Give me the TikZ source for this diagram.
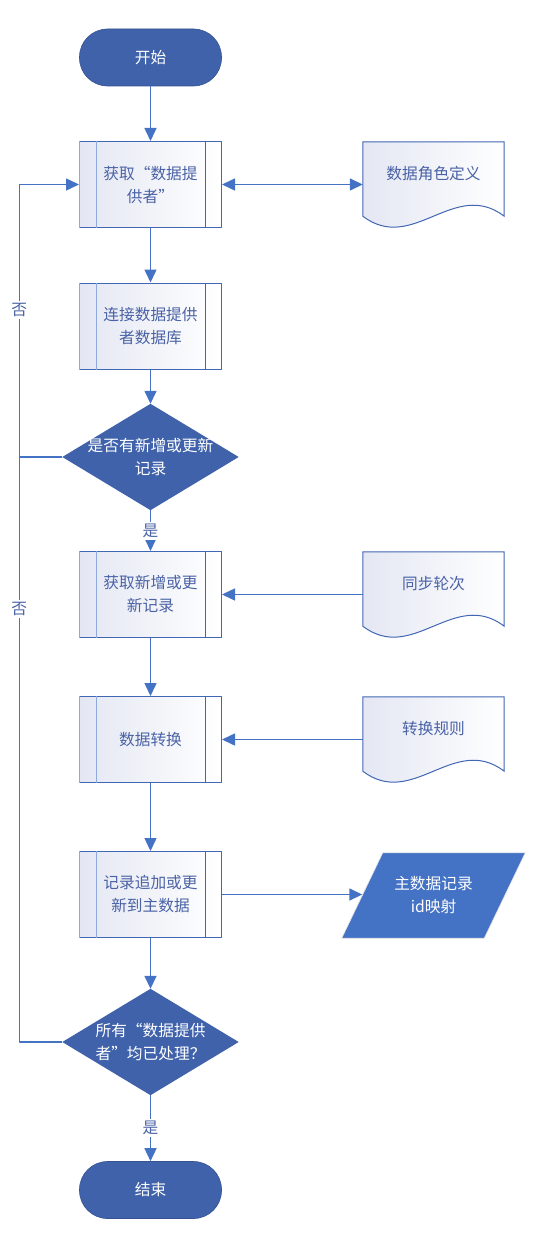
\documentclass[tikz,border=0pt]{standalone}
\usepackage{fontspec}
\setmainfont{Noto Sans CJK SC}
\usetikzlibrary{arrows.meta,backgrounds}
\definecolor{flowblue}{HTML}{4472C4}
\definecolor{termblue}{HTML}{3F62AB}
\definecolor{procedge}{HTML}{4166B4}
\definecolor{procpale}{HTML}{8EA9DB}
\definecolor{proctext}{HTML}{4A62A6}
\definecolor{procshade}{HTML}{E4E7F3}

\begin{document}
\begin{tikzpicture}[
  x=1pt,
  y=-1pt,
  line join=round,
  every node/.style={font=\fontsize{15.7}{23}\selectfont,align=center},
  terminal/.style={rectangle,rounded corners=28pt,fill=termblue,draw=termblue!85!black,line width=0.6pt,text=white,minimum width=142pt,minimum height=57pt},
  process/.style={rectangle,draw=procedge,line width=1pt,left color=procshade,right color=white,text=proctext,minimum width=142pt,minimum height=86pt,inner sep=0pt},
  decision/.style={rectangle,text=white,minimum width=176pt,minimum height=106pt,inner sep=0pt},
  docbox/.style={rectangle,text=proctext,minimum width=141pt,minimum height=63pt,inner sep=0pt},
  docline/.style={draw=procedge,line width=1pt,left color=procshade,right color=white},
  ioshape/.style={rectangle,text=white,minimum width=142pt,minimum height=85pt,inner sep=0pt},
  flow/.style={draw=flowblue,line width=1.5pt,-{Triangle[length=13pt,width=12pt]}},
  link/.style={draw=flowblue,line width=1.5pt},
  answer/.style={fill=white,text=proctext,inner sep=2pt}
]
  % Keep the original canvas with its margins.
  \useasboundingbox (0,0) rectangle (541,1233);

  % Main column.
  \node[terminal] (start) at (150.5,57.5) {开始};
  \node[process] (getProvider) at (150.5,184.5) {获取“数据提\\供者”};
  \node[process] (connectDb) at (150.5,326) {连接数据提供\\者数据库};
  \node[decision] (hasNew) at (150.5,457) {是否有新增或更新\\记录};
  \node[process] (getNew) at (150.5,594.5) {获取新增或更\\新记录};
  \node[process] (convert) at (150.5,739.5) {数据转换};
  \node[process] (writeMain) at (150.5,894.5) {记录追加或更\\新到主数据};
  \node[decision] (allDone) at (150.5,1042) {所有“数据提供\\者”均已处理？};
  \node[terminal] (finish) at (150.5,1190) {结束};

  % Side inputs and output.
  \node[docbox] (roleDoc) at (433.5,173.5) {数据角色定义};
  \node[docbox] (roundDoc) at (433.5,583.5) {同步轮次};
  \node[docbox] (ruleDoc) at (433.5,728.5) {转换规则};
  \node[ioshape] (idMap) at (433.5,895.5) {主数据记录\\id映射};

  % Shapes behind the texts.
  \begin{scope}[on background layer]
    \foreach \d in {roleDoc,roundDoc,ruleDoc}
      \draw[docline] (\d.north west) -- (\d.north east) -- ([yshift=-11pt]\d.south east)
        .. controls ([xshift=-50pt,yshift=27pt]\d.south east) and ([xshift=50pt,yshift=-49pt]\d.south west)
        .. ([yshift=-11pt]\d.south west) -- cycle;
    \foreach \d in {hasNew,allDone}
      \fill[termblue] (\d.north) -- (\d.east) -- (\d.south) -- (\d.west) -- cycle;
    \filldraw[fill=flowblue,draw=white!75!gray,line width=0.6pt]
      ([xshift=20.5pt]idMap.north west) -- ([xshift=20.5pt]idMap.north east)
      -- ([xshift=-20.5pt]idMap.south east) -- ([xshift=-20.5pt]idMap.south west) -- cycle;
  \end{scope}

  % Side bars of the predefined process boxes.
  \foreach \p in {getProvider,connectDb,getNew,convert,writeMain} {
    \draw[procpale,line width=1pt] (\p.north west) -- (\p.south west);
    \draw[procpale,line width=1pt] ([xshift=17pt]\p.north west) -- ([xshift=17pt]\p.south west);
    \draw[procedge,line width=1pt] ([xshift=-17pt]\p.north east) -- ([xshift=-17pt]\p.south east);
  }

  % Flow.
  \draw[flow] (start) -- (getProvider);
  \draw[flow,{Triangle[length=13pt,width=12pt]}-{Triangle[length=13pt,width=12pt]}]
    (getProvider.east) -- (getProvider.east -| roleDoc.west);
  \draw[flow] (getProvider) -- (connectDb);
  \draw[flow] (connectDb) -- (hasNew);
  \draw[flow] (hasNew) -- node[answer] {是} (getNew);
  \draw[flow] (getNew.east -| roundDoc.west) -- (getNew.east);
  \draw[flow] (getNew) -- (convert);
  \draw[flow] (convert.east -| ruleDoc.west) -- (convert.east);
  \draw[flow] (convert) -- (writeMain);
  \draw[flow] (writeMain.east) -- (writeMain.east -| idMap.west);
  \draw[flow] (writeMain) -- (allDone);
  \draw[flow] (allDone) -- node[answer] {是} (finish);

  % Loops back to the next provider.
  \draw[flow] (hasNew.west) -- ++(-43pt,0) coordinate (loopTurn)
    |- node[answer,pos=0.27] {否} (getProvider.west);
  \draw[link] (allDone.west) -| node[answer,pos=0.87] {否} (loopTurn);
\end{tikzpicture}
\end{document}
